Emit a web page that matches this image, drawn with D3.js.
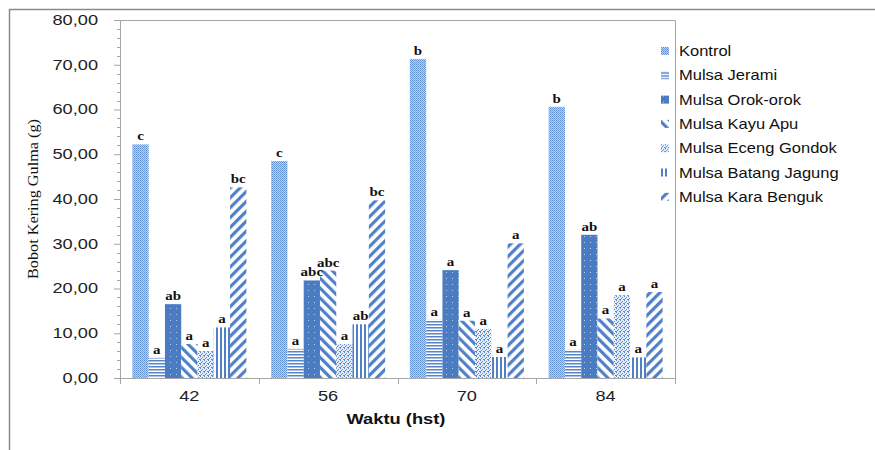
<!DOCTYPE html>
<html>
<head>
<meta charset="utf-8">
<script src="https://cdn.jsdelivr.net/npm/d3@7"></script>
<style>
  body { margin: 0; background: #fff; }
  svg { display: block; }
  .tick text { font-family: "Liberation Sans", Arial, sans-serif; font-size: 14px; fill: #222; }
</style>
</head>
<body>
<div id="chart"></div>
<script>
// data
const days = ["42", "56", "70", "84"];
const series = [
  "Kontrol",
  "Mulsa Jerami",
  "Mulsa Orok-orok",
  "Mulsa Kayu Apu",
  "Mulsa Eceng Gondok",
  "Mulsa Batang Jagung",
  "Mulsa Kara Benguk"
];
const kontrol = [52.2, 48.5, 71.3, 60.6];
const jerami = [4.5, 6.5, 13.0, 6.3];
const orok = [16.5, 21.8, 24.1, 32.0];
const kayuApu = [7.6, 24.0, 12.8, 13.3];
const eceng = [6.0, 7.6, 11.0, 18.5];
const batang = [11.3, 12.0, 4.7, 4.6];
const kara = [42.6, 39.7, 30.1, 19.2];
const letters = [
  ["c", "a", "ab", "a", "a", "a", "bc"],
  ["c", "a", "abc", "abc", "a", "ab", "bc"],
  ["b", "a", "a", "a", "a", "a", "a"],
  ["b", "a", "ab", "a", "a", "a", "a"]
];
const yTicks = [0, 10, 20, 30, 40, 50, 60, 70, 80];

const values = [kontrol, jerami, orok, kayuApu, eceng, batang, kara];
const rows = [];
days.forEach((day, i) => {
  series.forEach((s, j) => {
    rows.push({ day, s, j, value: values[j][i], letter: letters[i][j] });
  });
});

// dimensions
const W = 875;
const H = 450;
const LEFT = 120;
const RIGHT = 675;
const TOP = 20;
const BOTTOM = 378;
const BLUE = "#4a7cc4";

// the source picture is stretched sideways, so text is widened a bit
function stretch(sel, k) {
  sel.each(function () {
    const len = this.getComputedTextLength();
    d3.select(this)
      .attr("textLength", len * k)
      .attr("lengthAdjust", "spacingAndGlyphs");
  });
}

const $svg = d3.select("#chart").append("svg")
  .attr("width", W)
  .attr("height", H);

// outer frame
$svg.append("path")
  .attr("d", `M9.5,${H} V9.5 H${W}`)
  .attr("fill", "none")
  .attr("stroke", "#8a8a8a")
  .attr("stroke-width", 1.5);

// patterns
const $defs = $svg.append("defs");
function pattern(id, w, h, draw) {
  const p = $defs.append("pattern")
    .attr("id", id)
    .attr("patternUnits", "userSpaceOnUse")
    .attr("width", w)
    .attr("height", h);
  draw(p);
  return p;
}
pattern("p0", 2, 2, p => {
  p.append("rect").attr("width", 2).attr("height", 2).attr("fill", "#bcd1f0");
  p.append("rect").attr("width", 1).attr("height", 1).attr("fill", "#5e8ed2");
  p.append("rect").attr("x", 1).attr("y", 1).attr("width", 1).attr("height", 1).attr("fill", "#7aa2da");
});
pattern("p1", 4, 3, p => {
  p.append("rect").attr("width", 4).attr("height", 3).attr("fill", "#fff");
  p.append("rect").attr("width", 4).attr("height", 1.5).attr("fill", "#5584c9");
});
pattern("p2", 6, 6, p => {
  p.append("rect").attr("width", 6).attr("height", 6).attr("fill", BLUE);
  p.append("rect").attr("x", 2).attr("y", 2).attr("width", 1).attr("height", 1).attr("fill", "#b8cdee");
});
pattern("p3", 7, 7, p => {
  p.attr("patternTransform", "rotate(-45)");
  p.append("rect").attr("width", 7).attr("height", 7).attr("fill", "#fff");
  p.append("rect").attr("width", 3.2).attr("height", 7).attr("fill", "#5080c8");
});
pattern("p4", 4, 4, p => {
  p.append("rect").attr("width", 4).attr("height", 4).attr("fill", "#e6eefa");
  [[0, 0], [2, 1], [1, 2], [3, 3], [0, 3]].forEach(([x, y]) => {
    p.append("rect").attr("x", x).attr("y", y).attr("width", 1).attr("height", 1).attr("fill", "#5a88cc");
  });
});
pattern("p5", 4, 4, p => {
  p.append("rect").attr("width", 4).attr("height", 4).attr("fill", "#fff");
  p.append("rect").attr("width", 2).attr("height", 4).attr("fill", "#4f80c7");
});
pattern("p6", 7, 7, p => {
  p.attr("patternTransform", "rotate(45)");
  p.append("rect").attr("width", 7).attr("height", 7).attr("fill", "#fff");
  p.append("rect").attr("width", 3.2).attr("height", 7).attr("fill", "#5080c8");
});

// scales
const scaleX = d3.scaleBand().domain(days).range([LEFT, RIGHT]);
const scaleS = d3.scaleBand().domain(d3.range(series.length))
  .range([0, scaleX.bandwidth()])
  .paddingInner(0)
  .paddingOuter(0.76);
const scaleY = d3.scaleLinear().domain([0, 80]).range([BOTTOM, TOP]);

const locale = d3.formatLocale({ decimal: ",", thousands: ".", grouping: [3], currency: ["", ""] });
const fmt = locale.format(".2f");

// plot border (top and right)
$svg.append("path")
  .attr("d", `M${LEFT},${TOP + 0.5} H${RIGHT + 0.5} V${BOTTOM}`)
  .attr("fill", "none")
  .attr("stroke", "#a6a6a6");

// minor ticks
$svg.append("g")
  .selectAll("line")
  .data(d3.range(0, 81, 2).filter(v => v % 10 !== 0))
  .join("line")
  .attr("x1", LEFT - 3)
  .attr("x2", LEFT)
  .attr("y1", d => Math.round(scaleY(d)) + 0.5)
  .attr("y2", d => Math.round(scaleY(d)) + 0.5)
  .attr("stroke", "#a6a6a6");

// y axis
const $yAxis = $svg.append("g")
  .attr("transform", `translate(${LEFT},0)`)
  .call(d3.axisLeft(scaleY).tickValues(yTicks).tickFormat(fmt).tickSize(6).tickPadding(16));
$yAxis.select(".domain").attr("stroke", "#a6a6a6");
$yAxis.selectAll(".tick line").attr("stroke", "#a6a6a6");
stretch($yAxis.selectAll(".tick text"), 1.3);

// x axis
const $xAxis = $svg.append("g")
  .attr("transform", `translate(0,${BOTTOM})`);
$xAxis.append("line")
  .attr("x1", LEFT).attr("x2", RIGHT)
  .attr("y1", 0.5).attr("y2", 0.5)
  .attr("stroke", "#a6a6a6");
$xAxis.selectAll(".sep")
  .data(days.map(d => scaleX(d)).concat([RIGHT]))
  .join("line")
  .attr("class", "sep")
  .attr("x1", d => Math.round(d) + 0.5)
  .attr("x2", d => Math.round(d) + 0.5)
  .attr("y1", 0)
  .attr("y2", 6)
  .attr("stroke", "#a6a6a6");
const $xLab = $xAxis.selectAll(".lab")
  .data(days)
  .join("text")
  .attr("class", "lab")
  .attr("x", d => scaleX(d) + scaleX.bandwidth() / 2)
  .attr("y", 23)
  .attr("text-anchor", "middle")
  .style("font-family", "'Liberation Sans', Arial, sans-serif")
  .style("font-size", "14px")
  .attr("fill", "#222")
  .text(d => d);
stretch($xLab, 1.3);

// bars
const $bars = $svg.append("g");
$bars.selectAll("rect")
  .data(rows)
  .join("rect")
  .attr("x", d => scaleX(d.day) + scaleS(d.j))
  .attr("y", d => scaleY(d.value))
  .attr("width", scaleS.bandwidth())
  .attr("height", d => scaleY(0) - scaleY(d.value))
  .attr("fill", d => `url(#p${d.j})`);

// letters
const $letters = $bars.selectAll("text")
  .data(rows)
  .join("text")
  .attr("x", d => scaleX(d.day) + scaleS(d.j) + scaleS.bandwidth() / 2)
  .attr("y", d => scaleY(d.value) - 4)
  .attr("text-anchor", "middle")
  .style("font-family", "'Liberation Serif', 'Times New Roman', serif")
  .style("font-size", "13px")
  .style("font-weight", "bold")
  .attr("fill", "#111")
  .text(d => d.letter);
stretch($letters, 1.15);

// axis titles
const $yTitle = $svg.append("text")
  .attr("transform", `translate(38,${(TOP + BOTTOM) / 2}) rotate(-90)`)
  .attr("text-anchor", "middle")
  .style("font-family", "'Liberation Serif', 'Times New Roman', serif")
  .style("font-size", "15px")
  .attr("fill", "#111")
  .text("Bobot Kering Gulma  (g)");
$yTitle.attr("textLength", 160).attr("lengthAdjust", "spacingAndGlyphs");

const $xTitle = $svg.append("text")
  .attr("x", 396)
  .attr("y", 424)
  .attr("text-anchor", "middle")
  .style("font-family", "'Liberation Sans', Arial, sans-serif")
  .style("font-size", "15px")
  .style("font-weight", "bold")
  .attr("fill", "#111")
  .text("Waktu (hst)");
stretch($xTitle, 1.22);

// legend
const $legend = $svg.append("g").attr("transform", "translate(661,51)");
const $item = $legend.selectAll("g")
  .data(series)
  .join("g")
  .attr("transform", (d, i) => `translate(0,${i * 24.3})`);
$item.append("rect")
  .attr("x", 0)
  .attr("y", -4)
  .attr("width", 8)
  .attr("height", 8)
  .attr("fill", (d, i) => `url(#p${i})`);
const $legText = $item.append("text")
  .attr("x", 18)
  .attr("y", 5)
  .style("font-family", "'Liberation Sans', Arial, sans-serif")
  .style("font-size", "15px")
  .attr("fill", "#111")
  .text(d => d);
stretch($legText, 1.1);
</script>
</body>
</html>
